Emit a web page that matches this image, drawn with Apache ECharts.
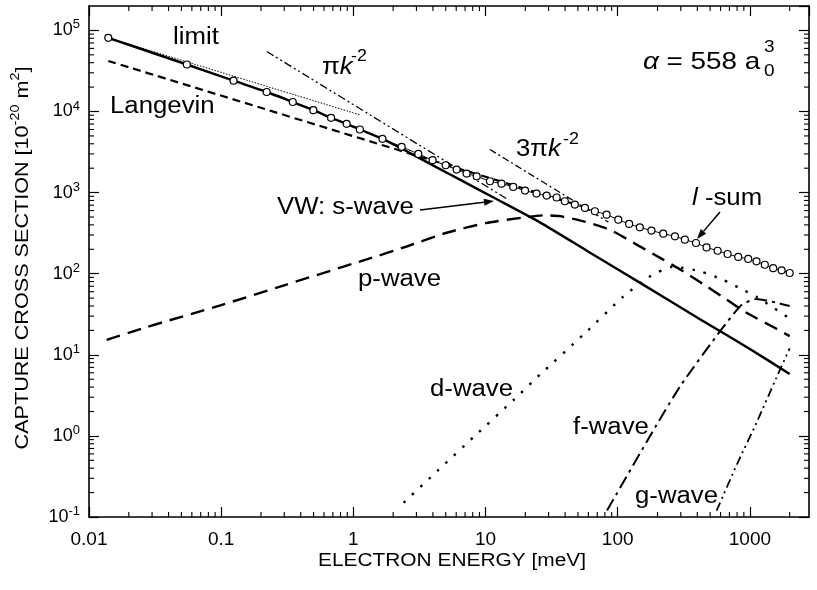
<!DOCTYPE html>
<html><head><meta charset="utf-8">
<script src="https://cdn.jsdelivr.net/npm/echarts@6/dist/echarts.min.js"></script>
<style>html,body{margin:0;padding:0;background:#fff}#c{width:817px;height:590px}</style>
</head><body><div id="c"></div>
<script>
// ---- data (energy in meV, cross section in 1e-20 m^2) ----
const sWaveE = [0.014, 0.055, 0.124, 0.221, 0.348, 0.5, 0.68, 0.89, 1.12, 1.66, 2.39, 4.0, 6.4, 11.5, 25.8, 60, 150, 419, 1000, 2000];
const sWaveS = [8.1e4, 3.8e4, 2.4e4, 1.74e4, 1.31e4, 1.04e4, 8350, 7050, 6000, 4600, 3400, 2170, 1445, 870, 430, 187, 76, 27.5, 11.8, 5.8];

const lSumE = [0.014, 0.055, 0.124, 0.221, 0.348, 0.498, 0.678, 0.89, 1.12, 1.66, 2.32, 3.1, 3.98, 4.99, 6.04, 7.19, 8.57, 10.8, 13.2, 16.2, 19.9, 24.3, 29, 34.5, 39.8, 47.4, 56.5, 67.2, 82.4, 101, 122, 147, 180, 221, 271, 322, 391, 470, 570, 678, 816, 971, 1122, 1297, 1500, 1738, 2000];
const lSumS = [8.1e4, 3.8e4, 2.4e4, 1.74e4, 1.31e4, 1.04e4, 8350, 7050, 6000, 4600, 3670, 3000, 2510, 2175, 1923, 1718, 1590, 1380, 1290, 1175, 1060, 973, 920, 870, 782, 711, 647, 589, 535, 464, 411, 373, 340, 312, 289, 263, 239, 211, 192, 175, 161, 152, 142, 129, 117, 110, 102];

const pWaveE = [0.0136, 0.0273, 0.1, 0.3, 1.26, 2.5, 5.08, 10, 20.5, 28, 36.6, 55, 87, 147, 221, 313, 470, 666, 944, 1500, 2000];
const pWaveS = [15.3, 22, 41, 72, 150, 215, 320, 420, 500, 525, 512, 443, 349, 217, 149, 107, 70, 48, 33, 22, 17];

const dWaveE = [2.4, 4.4, 8.3, 16.4, 25.8, 55, 110, 174, 262, 419, 627, 891, 1122, 2000];
const dWaveS = [0.15, 0.38, 1.0, 2.8, 5.7, 17.7, 52, 92, 122, 107, 84, 63, 52, 28];

const fWaveE = [83, 191, 300, 593, 865, 1122, 1585, 2000];
const fWaveS = [0.12, 1.26, 4.2, 19.4, 41, 48.7, 44, 40];

const gWaveE = [560, 800, 1122, 1585, 2000];
const gWaveS = [0.12, 0.45, 1.45, 5.2, 12];

const limitE = [0.014, 1.12];
const limitS = [8.1e4, 9.1e3];

const langevinE = [0.014, 50];
const langevinS = [4.2e4, 700];

const piKE = [0.221, 15];
const piKS = [5.5e4, 810];

const threePiKE = [10.8, 85];
const threePiKS = [3400, 432];

// axis ticks
const xTickLabels = ['0.01', '0.1', '1', '10', '100', '1000'];
const xDecades = [-2, -1, 0, 1, 2, 3];
const yDecades = [-1, 0, 1, 2, 3, 4, 5];
const minorMultipliers = [2, 3, 4, 5, 6, 7, 8, 9];

// ---- helpers ----
const FONT = "'Liberation Sans', Arial, Helvetica, sans-serif";
const X_MIN = -2, X_MAX = Math.log10(2800), Y_MIN = -1, Y_MAX = Math.log10(2e5);
const toLog = (E, S) => E.map((e, i) => [Math.log10(e), Math.log10(S[i])]);

const minorX = [], minorY = [];
xDecades.forEach(d => minorMultipliers.forEach(m => { const v = Math.log10(m) + d; if (v < X_MAX) minorX.push([v, Y_MIN]); }));
yDecades.forEach(d => minorMultipliers.forEach(m => { const v = Math.log10(m) + d; if (v < Y_MAX) minorY.push([X_MIN, v]); }));

function line(name, E, S, width, type, extra) {
  return Object.assign({
    name, type: 'line', data: toLog(E, S), symbol: 'none', smooth: 0.2,
    silent: true, animation: false,
    lineStyle: { color: '#000', width, type }
  }, extra || {});
}

const isInt = v => Math.abs(v - Math.round(v)) < 1e-6;

const tickStyle = { color: '#000', width: 1.2 };
function minorTickSeries(data, horizontal) {
  return {
    type: 'custom', data, silent: true, animation: false, clip: false, z: 5,
    renderItem(params, api) {
      const cs = params.coordSys;
      const p = api.coord([api.value(0), api.value(1)]);
      const st = { stroke: '#000', lineWidth: 1.1 };
      if (horizontal) {
        const yb = cs.y + cs.height, yt = cs.y;
        return { type: 'group', children: [
          { type: 'line', shape: { x1: p[0], y1: yb, x2: p[0], y2: yb - 5 }, style: st },
          { type: 'line', shape: { x1: p[0], y1: yt, x2: p[0], y2: yt + 5 }, style: st }
        ]};
      } else {
        const xl = cs.x, xr = cs.x + cs.width;
        return { type: 'group', children: [
          { type: 'line', shape: { x1: xl, y1: p[1], x2: xl + 5, y2: p[1] }, style: st },
          { type: 'line', shape: { x1: xr, y1: p[1], x2: xr - 5, y2: p[1] }, style: st }
        ]};
      }
    }
  };
}

function txt(x, y, text, size, opts) {
  const o = Object.assign({ italic: false, align: 'left', rich: null, sx: 1.12 }, opts || {});
  const style = {
    text, fill: '#000', fontSize: size, fontFamily: FONT, fontStyle: o.italic ? 'italic' : 'normal',
    textAlign: o.align, align: o.align, textVerticalAlign: 'middle', verticalAlign: 'middle'
  };
  if (o.rich) style.rich = o.rich;
  return { type: 'text', x, y, scaleX: o.sx, rotation: o.rot || 0, style, silent: true, z: 20 };
}

function arrow(x1, y1, x2, y2) {
  const dx = x2 - x1, dy = y2 - y1, L = Math.hypot(dx, dy), ux = dx / L, uy = dy / L;
  const hl = 10, hw = 3.5, bx = x2 - ux * hl, by = y2 - uy * hl;
  return [
    { type: 'line', shape: { x1, y1, x2: bx, y2: by }, style: { stroke: '#000', lineWidth: 1.5 }, silent: true, z: 20 },
    { type: 'polygon', shape: { points: [[x2, y2], [bx - uy * hw, by + ux * hw], [bx + uy * hw, by - ux * hw]] }, style: { fill: '#000' }, silent: true, z: 20 }
  ];
}

const base = (s) => ({ fontSize: s, fontFamily: FONT, lineHeight: s + 8 });
const sup = (s) => ({ fontSize: s, fontFamily: FONT, lineHeight: s, verticalAlign: 'top' });
const ital = (s) => ({ fontSize: s, fontFamily: FONT, lineHeight: s + 8, fontStyle: 'italic' });

const graphics = [
  txt(173, 38, 'limit', 23),
  txt(110, 107, 'Langevin', 23),
  txt(322, 68, '{p|π}{k|k}', 23, { rich: { p: base(23), k: ital(23) } }),
  txt(351, 57, '-2', 16),
  txt(516, 150, '{p|3π}{k|k}', 23, { rich: { p: base(23), k: ital(23) } }),
  txt(563, 140, '-2', 16),
  txt(643, 62, '{a|α}{n| = 558 a}', 24, { sx: 1.16, rich: { a: ital(24), n: base(24) } }),
  txt(764, 47, '3', 17),
  txt(764, 71, '0', 17),
  txt(277, 208, 'VW: s-wave', 23),
  txt(358, 280, 'p-wave', 23),
  txt(430, 390, 'd-wave', 23),
  txt(573, 428, 'f-wave', 23),
  txt(635, 497, 'g-wave', 23),
  txt(692, 199, '{l|l}{n| -sum}', 23, { rich: { l: ital(23), n: base(23) } }),
  ...arrow(420, 210, 494, 201),
  ...arrow(720, 212, 697, 239),
  // axis titles
  txt(452, 561, 'ELECTRON ENERGY [meV]', 18, { align: 'center', sx: 1.16 }),
  txt(23, 258, '{t|CAPTURE CROSS SECTION [10}{s|-20}{t| m}{s|2}{t|]}', 18,
      { align: 'center', sx: 1.2, rot: Math.PI / 2, rich: { t: base(18), s: sup(12) } })
];

const chart = echarts.init(document.getElementById('c'), null, { renderer: 'canvas' });

const axisCommon = {
  type: 'value', interval: 1, splitLine: { show: false },
  axisLine: { show: true, onZero: false, lineStyle: { color: '#000', width: 1.6 } },
  axisTick: { show: true, inside: true, length: 10, lineStyle: tickStyle }
};

chart.setOption({
  animation: false,
  backgroundColor: '#fff',
  grid: { left: 89, top: 6, width: 720, height: 511, show: false },
  xAxis: [
    Object.assign({}, axisCommon, {
      position: 'bottom', min: X_MIN, max: X_MAX,
      axisLabel: {
        margin: 13, color: '#000', fontSize: 19, fontFamily: FONT, showMaxLabel: false,
        formatter: v => isInt(v) ? xTickLabels[xDecades.indexOf(Math.round(v))] : ''
      }
    }),
    Object.assign({}, axisCommon, { position: 'top', min: X_MIN, max: X_MAX, axisLabel: { show: false } })
  ],
  yAxis: [
    Object.assign({}, axisCommon, {
      position: 'left', min: Y_MIN, max: Y_MAX,
      axisLabel: {
        margin: 9, color: '#000', showMaxLabel: false,
        formatter: v => isInt(v) ? '{b|10}{s|' + Math.round(v) + '}' : '',
        rich: { b: { fontSize: 18, fontFamily: FONT, lineHeight: 24, color: '#000' },
                s: { fontSize: 13, fontFamily: FONT, lineHeight: 13, verticalAlign: 'top', color: '#000' } }
      }
    }),
    Object.assign({}, axisCommon, { position: 'right', min: Y_MIN, max: Y_MAX, axisLabel: { show: false } })
  ],
  series: [
    minorTickSeries(minorX, true),
    minorTickSeries(minorY, false),
    line('p-wave', pWaveE, pWaveS, 2.4, [14, 8]),
    line('d-wave', dWaveE, dWaveS, 2.4, [2.5, 9]),
    line('f-wave', fWaveE, fWaveS, 2, [13, 5, 3, 5]),
    line('g-wave', gWaveE, gWaveS, 1.8, [9, 4, 2, 4, 2, 4]),
    line('Langevin', langevinE, langevinS, 2.2, [8, 5]),
    line('limit', limitE, limitS, 1, [1.5, 1.5]),
    line('πk-2', piKE, piKS, 1.3, [8, 3, 2, 3, 2, 3]),
    line('3πk-2', threePiKE, threePiKS, 1.3, [7, 3, 2, 3]),
    line('s-wave', sWaveE, sWaveS, 2.4, 'solid'),
    line('l-sum', lSumE, lSumS, 1, 'solid', {
      symbol: 'circle', symbolSize: 7, showSymbol: true, showAllSymbol: true, z: 10,
      itemStyle: { color: '#fff', borderColor: '#000', borderWidth: 1.2 }
    })
  ],
  graphic: graphics
});
</script></body></html>
